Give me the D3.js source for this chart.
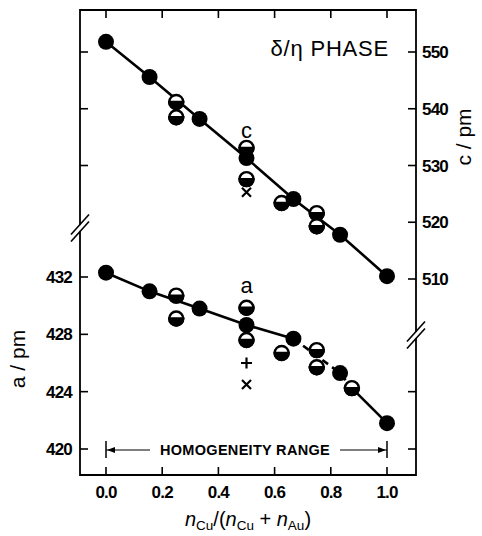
<!DOCTYPE html>
<html><head><meta charset="utf-8">
<script src="https://cdn.jsdelivr.net/npm/d3@7"></script>
<style>body{margin:0;background:#fff}svg{display:block}text{font-family:"Liberation Sans",Arial,sans-serif;fill:#000}</style>
</head><body>
<svg id="c" width="482" height="536"></svg>
<script>
// ---- data ----
const xTicks = [0, 0.2, 0.4, 0.6, 0.8, 1.0];
const xTickLabels = ["0.0", "0.2", "0.4", "0.6", "0.8", "1.0"];
const cTicks = [510, 520, 530, 540, 550];
const cTickLabels = ["510", "520", "530", "540", "550"];
const aTicks = [420, 424, 428, 432];
const aTickLabels = ["420", "424", "428", "432"];

const xMain = [0, 0.155, 0.333, 0.5, 0.667, 0.833, 1.0];
const cMain = [551.8, 545.6, 538.2, 531.3, 524.1, 517.8, 510.5];
const aMain = [432.3, 431.0, 429.8, 428.65, 427.7, 425.3, 421.8];

const cHalfX = [0.25, 0.25, 0.5, 0.5, 0.625, 0.75, 0.75];
const cHalf = [541.2, 538.5, 533.1, 527.6, 523.4, 521.6, 519.3];
const cCrossX = [0.5];
const cCross = [525.3];

const aHalfX = [0.25, 0.25, 0.5, 0.5, 0.625, 0.75, 0.75, 0.875];
const aHalf = [430.7, 429.1, 429.85, 427.6, 426.7, 426.9, 425.7, 424.25];
const aPlusX = [0.5];
const aPlus = [426.0];
const aCrossX = [0.5];
const aCross = [424.5];

// ---- layout ----
const L = 80, R = 416, T = 10, B = 475;
const svg = d3.select("#c");
const x = d3.scaleLinear().domain([0, 1]).range([106, 387]);
const yc = d3.scaleLinear().domain([510, 550]).range([279, 52]);
const ya = d3.scaleLinear().domain([420, 432]).range([449, 277]);

const g = svg.append("g");
// frame
g.append("path").attr("d", `M${L},${T}H${R}V${B}H${L}Z`).attr("fill", "none").attr("stroke", "#000").attr("stroke-width", 1.8);

// x ticks bottom & top (inward)
const tk = 8;
xTicks.forEach((v, i) => {
  g.append("line").attr("x1", x(v)).attr("x2", x(v)).attr("y1", B).attr("y2", B - tk).attr("stroke", "#000").attr("stroke-width", 1.6);
  g.append("line").attr("x1", x(v)).attr("x2", x(v)).attr("y1", T).attr("y2", T + tk).attr("stroke", "#000").attr("stroke-width", 1.6);
  g.append("text").attr("x", x(v)).attr("y", 498).attr("text-anchor", "middle")
    .attr("font-size", 17).attr("font-weight", "bold").attr("letter-spacing", -0.8).text(xTickLabels[i]);
});

// left axis: a ticks labelled, c ticks (upper) unlabelled
aTicks.forEach((v, i) => {
  g.append("line").attr("x1", L).attr("x2", L + tk).attr("y1", ya(v)).attr("y2", ya(v)).attr("stroke", "#000").attr("stroke-width", 1.6);
  g.append("text").attr("x", 72).attr("y", ya(v) + 6).attr("text-anchor", "end")
    .attr("font-size", 17).attr("font-weight", "bold").attr("letter-spacing", -0.8).text(aTickLabels[i]);
});
cTicks.filter(v => v >= 530).forEach(v => {
  g.append("line").attr("x1", L).attr("x2", L + tk).attr("y1", yc(v)).attr("y2", yc(v)).attr("stroke", "#000").attr("stroke-width", 1.6);
});
// right axis: c ticks labelled, lower a ticks unlabelled
cTicks.forEach((v, i) => {
  g.append("line").attr("x1", R).attr("x2", R - tk).attr("y1", yc(v)).attr("y2", yc(v)).attr("stroke", "#000").attr("stroke-width", 1.6);
  g.append("text").attr("x", 422).attr("y", yc(v) + 6).attr("text-anchor", "start")
    .attr("font-size", 17).attr("font-weight", "bold").attr("letter-spacing", -0.8).text(cTickLabels[i]);
});
aTicks.filter(v => v <= 424).forEach(v => {
  g.append("line").attr("x1", R).attr("x2", R - tk).attr("y1", ya(v)).attr("y2", ya(v)).attr("stroke", "#000").attr("stroke-width", 1.6);
});

// axis breaks
function brk(cx, cy) {
  g.append("rect").attr("x", cx - 2).attr("y", cy - 3).attr("width", 4).attr("height", 6).attr("fill", "#fff");
  [-3.5, 3.5].forEach(o => {
    g.append("line").attr("x1", cx - 9).attr("y1", cy + o + 10).attr("x2", cx + 9).attr("y2", cy + o - 10)
      .attr("stroke", "#000").attr("stroke-width", 1.6);
  });
}
brk(L, 228);
brk(R, 335);

// lines
const lw = 2.6;
const lineC = d3.line().x(d => x(d[0])).y(d => yc(d[1]));
const lineA = d3.line().x(d => x(d[0])).y(d => ya(d[1]));
const cPts = xMain.map((v, i) => [v, cMain[i]]);
const aPts = xMain.map((v, i) => [v, aMain[i]]);
g.append("path").attr("d", lineC(cPts)).attr("fill", "none").attr("stroke", "#000").attr("stroke-width", lw);
g.append("path").attr("d", lineA(aPts.slice(0, 5))).attr("fill", "none").attr("stroke", "#000").attr("stroke-width", lw);
const aLast = aHalfX.length - 1;
const dashPts = [aPts[4], aPts[5], [aHalfX[aLast], aHalf[aLast]]];
g.append("path").attr("d", lineA(dashPts)).attr("fill", "none").attr("stroke", "#000").attr("stroke-width", lw).attr("stroke-dasharray", "7,5");
g.append("path").attr("d", lineA([[aHalfX[aLast], aHalf[aLast]], aPts[6]])).attr("fill", "none").attr("stroke", "#000").attr("stroke-width", lw);

// markers
const rF = 8, rH = 7;
function half(px, py) {
  g.append("circle").attr("cx", px).attr("cy", py).attr("r", rH).attr("fill", "#fff").attr("stroke", "#000").attr("stroke-width", 2.4);
  g.append("path").attr("transform", `translate(${px},${py})`)
    .attr("d", `M${-rH},0A${rH},${rH} 0 0 0 ${rH},0Z`).attr("fill", "#000").attr("stroke", "#000").attr("stroke-width", 2.4);
}
cHalfX.forEach((v, i) => half(x(v), yc(cHalf[i])));
aHalfX.forEach((v, i) => half(x(v), ya(aHalf[i])));
cPts.forEach(d => g.append("circle").attr("cx", x(d[0])).attr("cy", yc(d[1])).attr("r", rF).attr("fill", "#000"));
aPts.forEach(d => g.append("circle").attr("cx", x(d[0])).attr("cy", ya(d[1])).attr("r", rF).attr("fill", "#000"));

function cross(px, py) {
  const s = 4.5;
  g.append("path").attr("d", `M${px - s},${py - s}L${px + s},${py + s}M${px - s},${py + s}L${px + s},${py - s}`)
    .attr("stroke", "#000").attr("stroke-width", 2.2);
}
function plus(px, py) {
  const s = 5.5;
  g.append("path").attr("d", `M${px - s},${py}H${px + s}M${px},${py - s}V${py + s}`).attr("stroke", "#000").attr("stroke-width", 2.2);
}
cCrossX.forEach((v, i) => cross(x(v), yc(cCross[i])));
aCrossX.forEach((v, i) => cross(x(v), ya(aCross[i])));
aPlusX.forEach((v, i) => plus(x(v), ya(aPlus[i])));

// letter labels
g.append("text").attr("x", x(0.5)).attr("y", 138).attr("text-anchor", "middle").attr("font-size", 22).text("c");
g.append("text").attr("x", x(0.5)).attr("y", 293).attr("text-anchor", "middle").attr("font-size", 22).text("a");

// phase title
g.append("text").attr("x", 389).attr("y", 56).attr("text-anchor", "end").attr("font-size", 22).attr("letter-spacing", 0.8).text("δ/η PHASE");

// homogeneity range
const hy = 450;
g.append("text").attr("x", 245).attr("y", hy + 5).attr("text-anchor", "middle").attr("font-size", 14.5).attr("font-weight", "bold").attr("letter-spacing", 0.3).text("HOMOGENEITY RANGE");
[x(0), x(1)].forEach(px => g.append("line").attr("x1", px).attr("x2", px).attr("y1", hy - 9).attr("y2", hy + 8).attr("stroke", "#000").attr("stroke-width", 1.5));
g.append("line").attr("x1", x(0)).attr("x2", 150).attr("y1", hy).attr("y2", hy).attr("stroke", "#000").attr("stroke-width", 1.1);
g.append("line").attr("x1", 340).attr("x2", x(1)).attr("y1", hy).attr("y2", hy).attr("stroke", "#000").attr("stroke-width", 1.1);
g.append("path").attr("d", `M${x(0) + 1},${hy}l8,-3v6Z`).attr("fill", "#000");
g.append("path").attr("d", `M${x(1) - 1},${hy}l-8,-3v6Z`).attr("fill", "#000");

// axis titles
const xt = g.append("text").attr("x", 248).attr("y", 526).attr("text-anchor", "middle").attr("font-size", 20);
xt.append("tspan").attr("font-style", "italic").text("n");
xt.append("tspan").attr("font-size", 13.5).attr("dy", 4).text("Cu");
xt.append("tspan").attr("dy", -4).text("/(");
xt.append("tspan").attr("font-style", "italic").text("n");
xt.append("tspan").attr("font-size", 13.5).attr("dy", 4).text("Cu");
xt.append("tspan").attr("dy", -4).text(" + ");
xt.append("tspan").attr("font-style", "italic").text("n");
xt.append("tspan").attr("font-size", 13.5).attr("dy", 4).text("Au");
xt.append("tspan").attr("dy", -4).text(")");

g.append("text").attr("transform", "translate(25,359) rotate(-90)").attr("text-anchor", "middle").attr("font-size", 21).text("a / pm");
g.append("text").attr("transform", "translate(471,137) rotate(-90)").attr("text-anchor", "middle").attr("font-size", 21).text("c / pm");
</script>
</body></html>
